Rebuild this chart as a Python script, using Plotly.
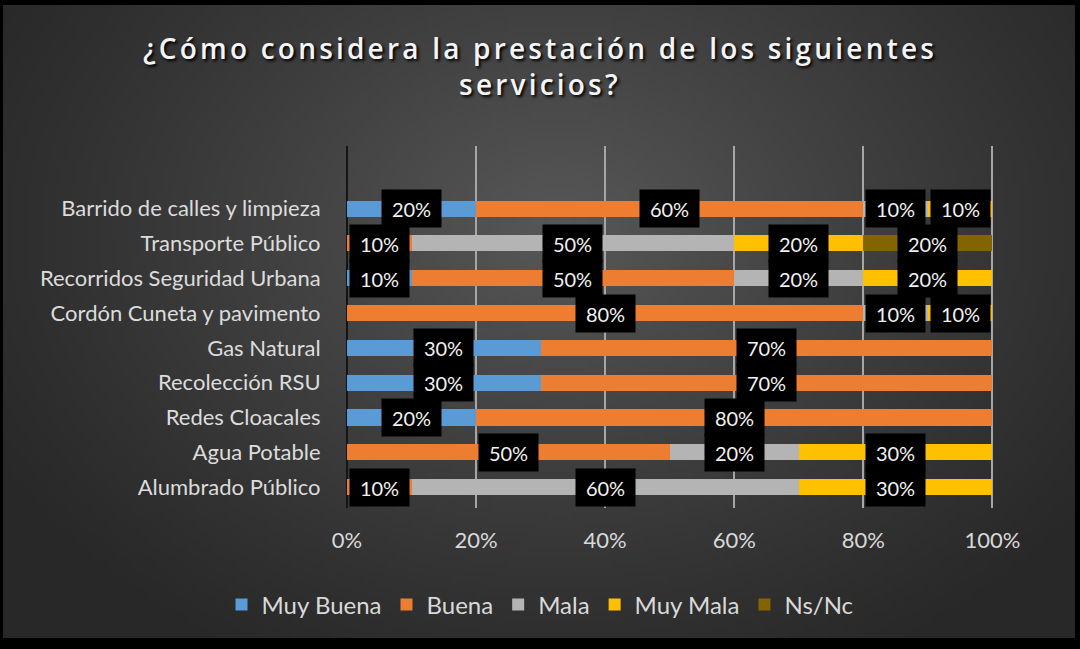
import base64
import math
import struct
import zlib

import plotly.graph_objects as go

categories = [
    "Barrido de calles y limpieza",
    "Transporte Público",
    "Recorridos Seguridad Urbana",
    "Cordón Cuneta y pavimento",
    "Gas Natural",
    "Recolección RSU",
    "Redes Cloacales",
    "Agua Potable",
    "Alumbrado Público",
]
muy_buena = [20, 0, 10, 0, 30, 30, 20, 0, 0]
buena = [60, 10, 50, 80, 70, 70, 80, 50, 10]
mala = [10, 50, 20, 10, 0, 0, 0, 20, 60]
muy_mala = [10, 20, 20, 10, 0, 0, 0, 30, 30]
ns_nc = [0, 20, 0, 0, 0, 0, 0, 0, 0]

series = [
    ("Muy Buena", muy_buena, "#5B9BD5"),
    ("Buena", buena, "#ED7D31"),
    ("Mala", mala, "#B4B4B4"),
    ("Muy Mala", muy_mala, "#FFC000"),
    ("Ns/Nc", ns_nc, "#846303"),
]
x_ticks = [0, 20, 40, 60, 80, 100]
x_tick_labels = ["0%", "20%", "40%", "60%", "80%", "100%"]
title_text = "¿Cómo considera la prestación de los siguientes<br>servicios?"

W, H = 1080, 649
L, R, T, B = 347, 995, 146, 508
FONT = "Lato"


def px2x(px):
    return (px - L) / (R - L)


def py2y(py):
    return (B - py) / (B - T)


# ---- smooth radial background (styling only) ----
def gradient_png(w, h):
    rows = []
    for j in range(h):
        py = (j + 0.5) / h * H
        row = bytearray([0])
        for i in range(w):
            px = (i + 0.5) / w * W
            d = math.sqrt(((px - 560) / 660) ** 2 + ((py - 230) / 500) ** 2)
            t = max(0.0, 1.0 - d) ** 1.15
            v = int(40 + 48 * t)
            row.append(v)
        rows.append(bytes(row))
    raw = b"".join(rows)

    def chunk(tag, data):
        c = struct.pack(">I", len(data)) + tag + data
        return c + struct.pack(">I", zlib.crc32(tag + data) & 0xFFFFFFFF)

    png = b"\x89PNG\r\n\x1a\n"
    png += chunk(b"IHDR", struct.pack(">IIBBBBB", w, h, 8, 0, 0, 0, 0))
    png += chunk(b"IDAT", zlib.compress(raw, 9))
    png += chunk(b"IEND", b"")
    return "data:image/png;base64," + base64.b64encode(png).decode()


bg_src = gradient_png(216, 130)

fig = go.Figure()
for name, vals, color in series:
    fig.add_trace(go.Bar(
        name=name, x=vals, y=categories, orientation="h",
        marker=dict(color=color, line=dict(width=0)),
        hoverinfo="skip",
    ))

# data labels (black boxes)
annotations = []
cum = [0] * len(categories)
for name, vals, color in series:
    for i, v in enumerate(vals):
        if v > 0:
            annotations.append(dict(
                x=cum[i] + v / 2, y=categories[i], xref="x", yref="y",
                text=f"{v}%", showarrow=False,
                font=dict(family=FONT, size=20, color="#f2f2f2"),
                bgcolor="#000000", width=57, height=35,
            ))
        cum[i] += v

shapes = []
# black screenshot borders
for (x0, y0, x1, y1) in [(0, 0, W, 5), (0, 638, W, H), (0, 0, 3, H), (W - 5, 0, W, H)]:
    shapes.append(dict(
        type="rect", xref="paper", yref="paper", layer="above",
        x0=px2x(x0), x1=px2x(x1), y0=py2y(y1), y1=py2y(y0),
        fillcolor="#000000", line=dict(width=0),
    ))

fig.update_layout(
    width=W, height=H,
    margin=dict(l=L, r=W - R, t=T, b=H - B, pad=0),
    paper_bgcolor="#2f2f2f",
    plot_bgcolor="rgba(0,0,0,0)",
    barmode="stack",
    bargap=0.54,
    images=[dict(
        source=bg_src, xref="paper", yref="paper",
        x=px2x(0), y=py2y(0), sizex=W / (R - L), sizey=H / (B - T),
        xanchor="left", yanchor="top", sizing="stretch", layer="below",
    )],
    title=dict(
        text=title_text, x=0.5, xref="container", xanchor="center",
        y=1 - 59 / H, yref="container", yanchor="middle",
        font=dict(family="Open Sans", size=28, color="#f4f4f4", weight=600,
                  shadow="2px 2px 3px #000000"),
    ),
    xaxis=dict(
        range=[0, 100.4], tickvals=x_ticks, ticktext=x_tick_labels,
        showgrid=True, gridcolor="#a6a6a6", gridwidth=2,
        zeroline=True, zerolinecolor="#151515", zerolinewidth=2,
        ticks="outside", ticklen=13, tickcolor="rgba(0,0,0,0)",
        tickfont=dict(family=FONT, size=22, color="#d9d9d9"),
        showline=False, fixedrange=True,
    ),
    yaxis=dict(
        range=[8.6, -1.8], type="category",
        showgrid=False, zeroline=False, showline=False,
        ticks="outside", ticklen=21, tickcolor="rgba(0,0,0,0)",
        tickfont=dict(family=FONT, size=22, color="#dcdcdc"),
        fixedrange=True,
    ),
    legend=dict(
        orientation="h", xref="container", yref="container",
        x=0.5, xanchor="center", y=1 - 605 / H, yanchor="middle",
        font=dict(family=FONT, size=24, color="#d9d9d9"),
        bgcolor="rgba(0,0,0,0)", traceorder="normal",
        itemwidth=30,
    ),
    annotations=annotations,
    shapes=shapes,
    showlegend=True,
)

post = (
    "document.body.style.margin='0';"
    "document.body.style.background='#000';"
    "var st=document.createElement('style');"
    "st.textContent='.gtitle{letter-spacing:3.2px;}';"
    "document.head.appendChild(st);"
)

fig.write_html("out.html", config={"displayModeBar": False}, post_script=post)
